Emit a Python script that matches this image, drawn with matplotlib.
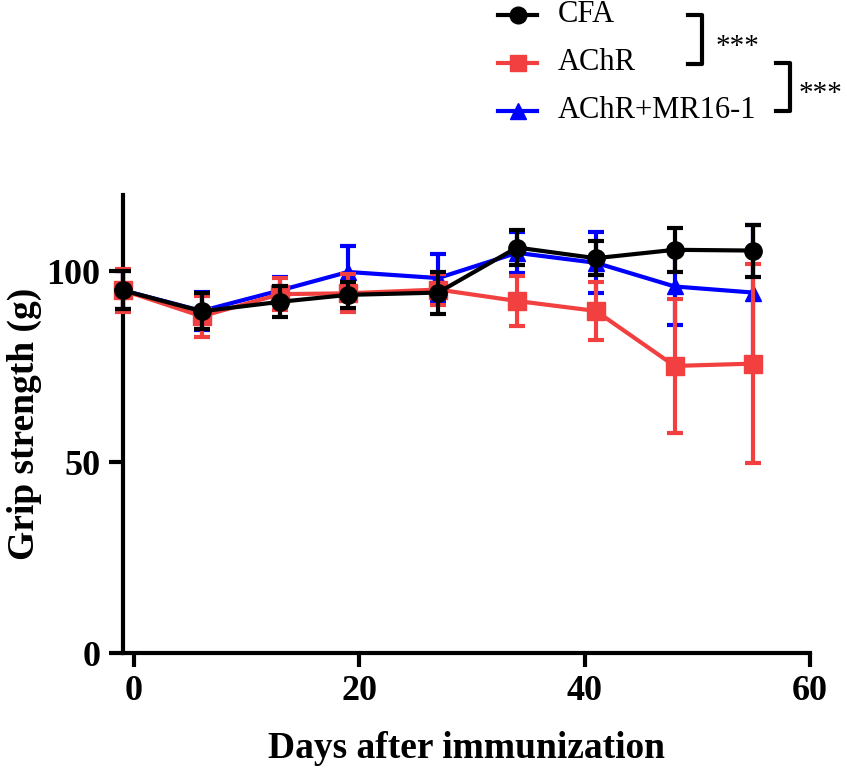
import matplotlib
matplotlib.use('Agg')

import matplotlib.pyplot as plt
from matplotlib.lines import Line2D

plt.rcParams['font.family'] = ['Liberation Serif', 'DejaVu Serif']

# days after immunization
days = [-1, 6, 13, 19, 27, 34, 41, 48, 55]

# grip strength (g), mean and error
cfa_mean = [95, 89.5, 92, 93.8, 94.4, 106.2, 103.4, 105.6, 105.4]
cfa_err = [5, 4.7, 4, 3.5, 5.5, 4.5, 4.5, 5.7, 6.8]

achr_mean = [95, 88.2, 94, 94.2, 95.2, 92.2, 89.6, 75.2, 75.8]
achr_err = [5.6, 5.4, 4.2, 5, 4, 6.6, 7.5, 17.5, 26]

mr_mean = [95, 89.6, 95, 99.8, 98.2, 104.8, 102.2, 96, 94.4]
mr_err = [5, 5, 3.6, 6.8, 6.3, 5.4, 8, 10, 17.8]

labels = ['CFA', 'AChR', 'AChR+MR16-1']
red = '#F23F3F'
blue = '#0000FF'

fig = plt.figure(figsize=(8.47, 7.73), dpi=100)
ax = fig.add_axes([0.145, 0.155, 0.811, 0.593])

series = [
    (mr_mean, mr_err, blue, '^', 12, 2),
    (achr_mean, achr_err, red, 's', 13, 3),
    (cfa_mean, cfa_err, 'black', 'o', 12.5, 4),
]
for mean, err, col, mk, ms, z in series:
    ax.errorbar(days, mean, yerr=err, fmt='none', ecolor=col, elinewidth=3,
                capsize=6, capthick=3, zorder=z, clip_on=False)
    ax.plot(days, mean, color=col, lw=3, marker=mk, markersize=ms,
            zorder=z + 0.5, clip_on=False)

ax.set_xlim(-1, 60)
ax.set_ylim(0, 120)
ax.set_xticks([0, 20, 40, 60])
ax.set_yticks([0, 50, 100])

for s in ['top', 'right']:
    ax.spines[s].set_visible(False)
ax.spines['left'].set_linewidth(3)
ax.spines['bottom'].set_linewidth(3)
ax.tick_params(width=3, length=10, labelsize=26, pad=6)
for t in ax.get_xticklabels() + ax.get_yticklabels():
    t.set_fontweight('bold')

ax.set_xlabel('Days after immunization', fontsize=27, fontweight='bold', labelpad=16)
ax.set_ylabel('Grip strength (g)', fontsize=27, fontweight='bold', labelpad=3)

# legend drawn by hand above the plot, on the right
leg_styles = [('black', 'o', 12), (red, 's', 12), (blue, '^', 12)]
for i, (lab, (col, mk, ms)) in enumerate(zip(labels, leg_styles)):
    y = 1 - (15 + 48 * i) / 773
    fig.add_artist(Line2D([0.588, 0.634], [y, y], transform=fig.transFigure,
                          color=col, lw=3))
    fig.add_artist(Line2D([0.611], [y], transform=fig.transFigure,
                          color=col, marker=mk, markersize=ms))
    fig.text(0.659, y, lab, fontsize=22, va='center', ha='left')

# significance brackets
def bracket(x, y0, y1, w, dx, text):
    fig.add_artist(Line2D([x - w, x, x, x - w], [y0, y0, y1, y1],
                          transform=fig.transFigure, color='black', lw=3))
    fig.text(x + dx, (y0 + y1) / 2 - 0.009, text, fontsize=21, va='center', ha='left')

bracket(0.829, 0.980, 0.917, 0.017, 0.016, '***')
bracket(0.933, 0.919, 0.857, 0.017, 0.010, '***')

fig.savefig('out.png', dpi=100)
